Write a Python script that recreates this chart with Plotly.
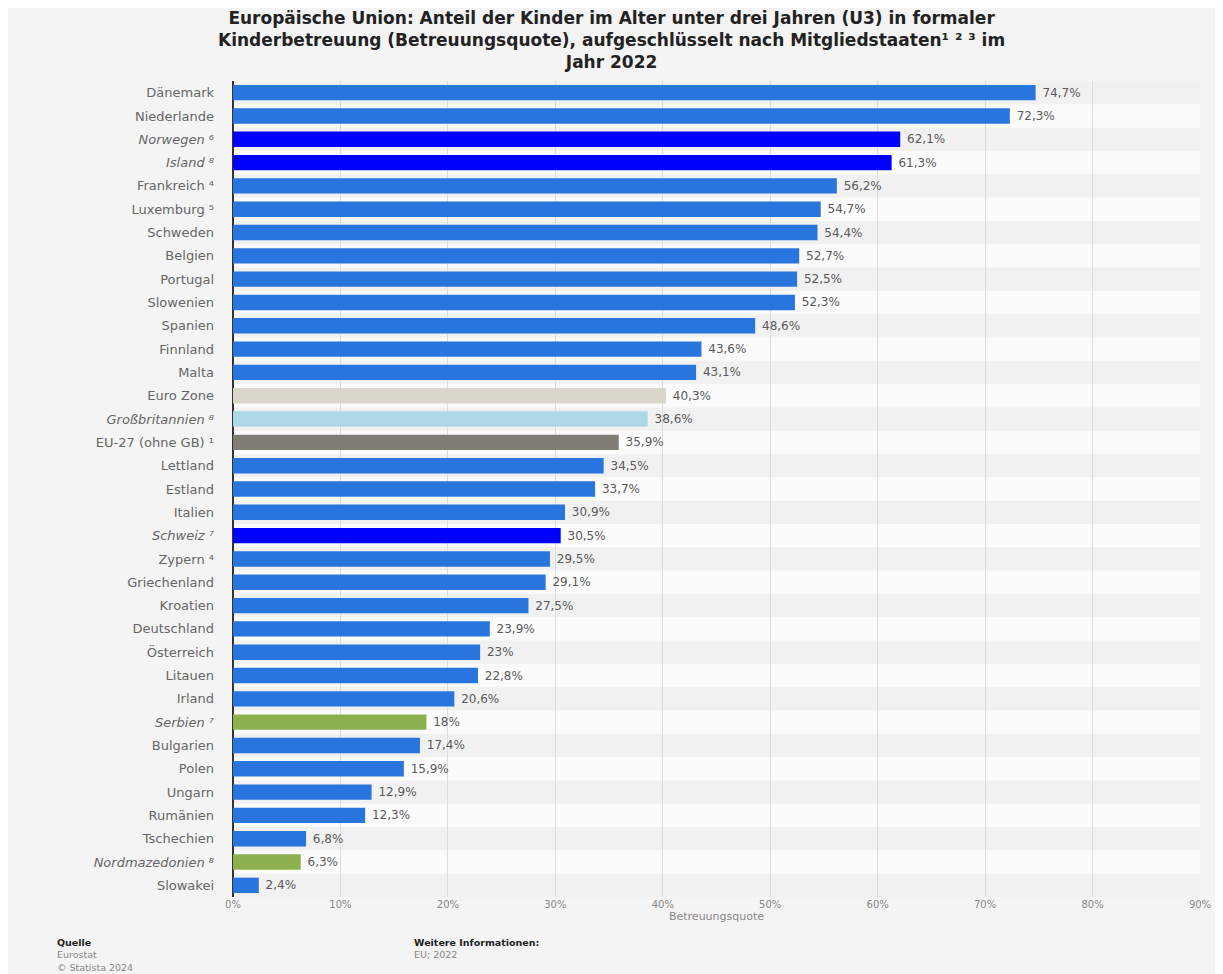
import plotly.graph_objects as go

categories = [
    "Dänemark", "Niederlande", "Norwegen ⁶", "Island ⁸", "Frankreich ⁴", "Luxemburg ⁵",
    "Schweden", "Belgien", "Portugal", "Slowenien", "Spanien", "Finnland", "Malta",
    "Euro Zone", "Großbritannien ⁸", "EU-27 (ohne GB) ¹", "Lettland", "Estland", "Italien",
    "Schweiz ⁷", "Zypern ⁴", "Griechenland", "Kroatien", "Deutschland", "Österreich",
    "Litauen", "Irland", "Serbien ⁷", "Bulgarien", "Polen", "Ungarn", "Rumänien",
    "Tschechien", "Nordmazedonien ⁸", "Slowakei",
]
values = [
    74.7, 72.3, 62.1, 61.3, 56.2, 54.7, 54.4, 52.7, 52.5, 52.3, 48.6, 43.6, 43.1,
    40.3, 38.6, 35.9, 34.5, 33.7, 30.9, 30.5, 29.5, 29.1, 27.5, 23.9, 23.0,
    22.8, 20.6, 18.0, 17.4, 15.9, 12.9, 12.3, 6.8, 6.3, 2.4,
]
groups = [
    "eu", "eu", "efta", "efta", "eu", "eu", "eu", "eu", "eu", "eu", "eu", "eu", "eu",
    "ez", "gb", "eu27", "eu", "eu", "eu", "efta", "eu", "eu", "eu", "eu", "eu",
    "eu", "eu", "cand", "eu", "eu", "eu", "eu", "eu", "cand", "eu",
]
italic = ["Norwegen ⁶", "Island ⁸", "Großbritannien ⁸", "Schweiz ⁷", "Serbien ⁷", "Nordmazedonien ⁸"]
x_ticks = [0, 10, 20, 30, 40, 50, 60, 70, 80, 90]

group_colors = {
    "eu": "#2876dd", "efta": "#0000ff", "ez": "#d9d6cc", "gb": "#add8e6",
    "eu27": "#7f7d74", "cand": "#8db04e",
}
colors = [group_colors[g] for g in groups]
texts = ["\u00a0" + format(v, "g").replace(".", ",") + "%" for v in values]
ticktext = [f"<i>{c}</i>" if c in italic else c for c in categories]

FONT = "DejaVu Sans"

fig = go.Figure(go.Bar(
    x=values, y=categories, orientation="h",
    marker=dict(color=colors, line=dict(width=0)),
    text=texts, textposition="outside", cliponaxis=False,
    textfont=dict(family=FONT, size=12, color="#5a5a5a"),
    width=0.66,
))

shapes = []
for i in range(len(categories)):
    if i % 2 == 0:
        shapes.append(dict(type="rect", xref="paper", yref="y", x0=0, x1=1,
                           y0=i - 0.5, y1=i + 0.5, fillcolor="#f1f1f1",
                           line=dict(width=0), layer="below"))

fig.update_layout(
    width=1215, height=966,
    paper_bgcolor="#f4f4f4", plot_bgcolor="#fbfbfb",
    margin=dict(l=225, r=23, t=73, b=77, autoexpand=False),
    showlegend=False,
    shapes=shapes,
    font=dict(family=FONT, color="#666666"),
)
fig.update_xaxes(
    range=[0, 90], tickvals=x_ticks, ticktext=[f"{t}%" for t in x_ticks],
    showgrid=True, gridcolor="#dcdcdc", gridwidth=1,
    zeroline=True, zerolinecolor="#333333", zerolinewidth=2,
    tickfont=dict(family=FONT, size=10, color="#888888"),
    title=dict(text="Betreuungsquote", font=dict(family=FONT, size=11, color="#888888"), standoff=0),
    ticks="", fixedrange=True, automargin=False,
)
fig.update_yaxes(
    autorange="reversed", tickmode="array", tickvals=categories, ticktext=ticktext,
    tickfont=dict(family=FONT, size=13, color="#666666"),
    ticks="", ticklabelstandoff=18, showgrid=False, automargin=False,
)

PW, PH = 967, 816  # plot area size in px (for placing notes)
fig.add_annotation(
    xref="paper", yref="paper", x=0.5 + (611 - 233 - PW / 2) / PW, y=1 + (81 - 6) / PH,
    xanchor="center", yanchor="top", showarrow=False, align="center",
    text="<b>Europäische Union: Anteil der Kinder im Alter unter drei Jahren (U3) in formaler<br>"
         "Kinderbetreuung (Betreuungsquote), aufgeschlüsselt nach Mitgliedstaaten¹ ² ³ im<br>"
         "Jahr 2022</b>",
    font=dict(family=FONT, size=17, color="#222222"),
)
fig.add_annotation(xref="paper", yref="paper", x=(55 - 233) / PW, y=-(935 - 897) / PH,
                   xanchor="left", yanchor="top", showarrow=False, align="left",
                   text="<b>Quelle</b><br><span style='color:#888888'>Eurostat<br>© Statista 2024</span>",
                   font=dict(family=FONT, size=9.5, color="#222222"))
fig.add_annotation(xref="paper", yref="paper", x=(412 - 233) / PW, y=-(935 - 897) / PH,
                   xanchor="left", yanchor="top", showarrow=False, align="left",
                   text="<b>Weitere Informationen:</b><br><span style='color:#888888'>EU; 2022</span>",
                   font=dict(family=FONT, size=9.5, color="#222222"))

fig.write_html("out.html")
